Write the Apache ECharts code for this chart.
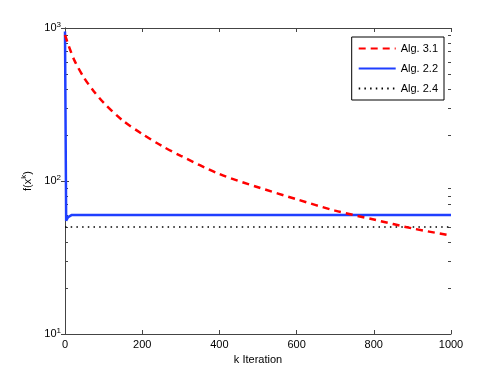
<!DOCTYPE html>
<html>
<head>
<meta charset="utf-8">
<script src="https://cdn.jsdelivr.net/npm/echarts@6/dist/echarts.min.js"></script>
<style>
  html, body { margin: 0; padding: 0; background: #fff; }
  #chart { width: 498px; height: 375px; }
</style>
</head>
<body>
<div id="chart"></div>
<script>
// iteration values
const alg31K = [0, 10, 25, 50, 75, 100, 150, 200, 250, 300, 400, 500, 600, 700, 800, 900, 1000]
const alg31F = [900, 760, 610, 470, 385, 325, 248, 203, 170, 146, 111, 91, 76, 64, 56, 49, 44]

const alg22K = [0, 3, 8, 18, 1000]
const alg22F = [950, 55, 58, 60, 60]

const alg24K = [0, 1000]
const alg24F = [50, 50]

const xTicks = [0, 200, 400, 600, 800, 1000]
const yMinorTicks = [20, 30, 40, 50, 60, 70, 80, 90, 200, 300, 400, 500, 600, 700, 800, 900]

const font = 'Liberation Sans, Arial, sans-serif'

const chart = echarts.init(document.getElementById('chart'))

const pairs = (ks, fs) => ks.map((k, i) => [k, fs[i]])

const supRich = {
  sup: { fontSize: 8, verticalAlign: 'bottom', padding: [0, 0, 7, 0], fontFamily: font, color: '#000' },
  base: { fontSize: 11, fontFamily: font, color: '#000' }
}

const axisLine = { show: true, lineStyle: { color: '#444', width: 1 } }
const tick = { inside: true, length: 4, lineStyle: { color: '#444' } }

// log axis shifted 3px into the plot, only drawing the minor ticks back to the frame
const minorAxis = (pos) => ({
  type: 'log',
  logBase: 10,
  min: 10,
  max: 1000,
  position: pos,
  offset: -3,
  axisLine: { show: false },
  axisTick: { show: true, inside: false, length: 3, customValues: yMinorTicks, lineStyle: { color: '#444' } },
  axisLabel: { show: false },
  splitLine: { show: false }
})

const option = {
  animation: false,
  backgroundColor: '#fff',
  grid: { left: 65, right: 47, top: 28, bottom: 41, containLabel: false },
  legend: {
    orient: 'vertical',
    right: 54,
    top: 37,
    padding: [6, 6, 6, 6],
    itemWidth: 37,
    itemHeight: 10,
    itemGap: 9,
    borderColor: '#000',
    borderWidth: 1,
    backgroundColor: '#fff',
    itemStyle: { opacity: 0 },
    textStyle: { fontSize: 11, fontFamily: font, color: '#000' },
    data: ['Alg. 3.1', 'Alg. 2.2', 'Alg. 2.4']
  },
  xAxis: [
    {
      type: 'value',
      min: 0,
      max: 1000,
      interval: 200,
      position: 'bottom',
      name: 'k Iteration',
      nameLocation: 'middle',
      nameGap: 18,
      nameTextStyle: { fontSize: 11, fontFamily: font, color: '#000' },
      axisLine: axisLine,
      axisTick: tick,
      axisLabel: {
        fontSize: 11, fontFamily: font, color: '#000', margin: 5,
        formatter: v => xTicks.includes(v) ? String(v) : ''
      },
      splitLine: { show: false }
    },
    {
      type: 'value',
      min: 0,
      max: 1000,
      interval: 200,
      position: 'top',
      axisLine: axisLine,
      axisTick: tick,
      axisLabel: { show: false },
      splitLine: { show: false }
    }
  ],
  yAxis: [
    {
      type: 'log',
      logBase: 10,
      min: 10,
      max: 1000,
      interval: 1,
      position: 'left',
      name: 'f(x{sup|k})',
      nameLocation: 'middle',
      nameRotate: 90,
      nameGap: 30,
      nameTextStyle: { fontSize: 11, fontFamily: font, color: '#000', rich: supRich },
      axisLine: axisLine,
      axisTick: tick,
      axisLabel: {
        margin: 4,
        formatter: v => '{base|10}{sup|' + Math.round(Math.log10(v)) + '}',
        rich: supRich
      },
      splitLine: { show: false }
    },
    {
      type: 'log',
      logBase: 10,
      min: 10,
      max: 1000,
      interval: 1,
      position: 'right',
      axisLine: axisLine,
      axisTick: tick,
      axisLabel: { show: false },
      splitLine: { show: false }
    },
    minorAxis('left'),
    minorAxis('right')
  ],
  series: [
    {
      name: 'Alg. 3.1',
      type: 'line',
      smooth: 0.3,
      symbol: 'none',
      data: pairs(alg31K, alg31F),
      lineStyle: { color: '#ff0000', width: 2.5, type: [7, 5] },
      itemStyle: { color: '#ff0000' },
      z: 3
    },
    {
      name: 'Alg. 2.2',
      type: 'line',
      symbol: 'none',
      data: pairs(alg22K, alg22F),
      lineStyle: { color: '#1f3fff', width: 2.5, type: 'solid' },
      itemStyle: { color: '#1f3fff' },
      z: 2
    },
    {
      name: 'Alg. 2.4',
      type: 'line',
      symbol: 'none',
      data: pairs(alg24K, alg24F),
      lineStyle: { color: '#000', width: 1.5, type: [1.5, 4.2] },
      itemStyle: { color: '#000' },
      z: 1
    }
  ]
}

chart.setOption(option)
</script>
</body>
</html>
